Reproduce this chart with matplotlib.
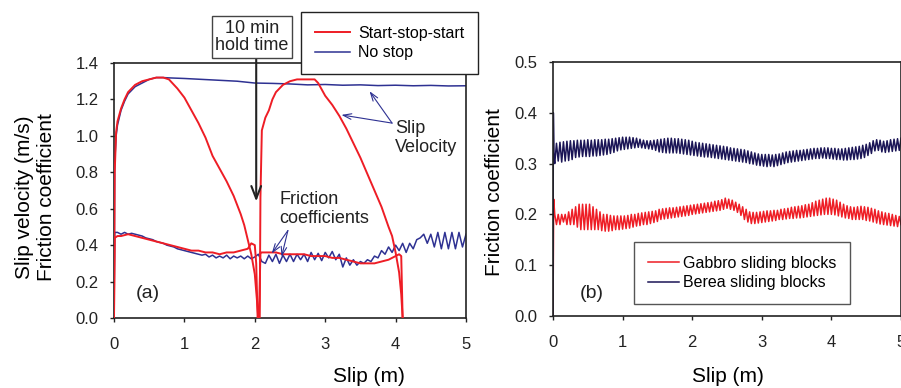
import numpy as np
import matplotlib
matplotlib.use('Agg')
import matplotlib.pyplot as plt

plt.rcParams['font.family'] = ['Liberation Sans', 'DejaVu Sans']

RED = '#ee1d25'
BLUE = '#2e3192'
NAVY = '#1b1556'

# ---- panel (a): start-stop-start vs no stop ----
sss_vel_x = [0, 0.01, 0.03, 0.05, 0.1, 0.15, 0.2, 0.3, 0.4, 0.5, 0.6, 0.7, 0.78, 0.9,
             1.0, 1.1, 1.2, 1.3, 1.4, 1.5, 1.6, 1.7, 1.8, 1.85, 1.9, 1.95, 2.0, 2.03,
             2.05, 2.07, 2.08, 2.1, 2.15, 2.2, 2.25, 2.3, 2.4, 2.5, 2.6, 2.7, 2.8, 2.85,
             2.9, 3.0, 3.1, 3.2, 3.3, 3.4, 3.5, 3.6, 3.7, 3.8, 3.9, 3.95, 4.0, 4.05,
             4.08, 4.1]
sss_vel = [0, 0.8, 1.02, 1.08, 1.15, 1.2, 1.24, 1.28, 1.3, 1.31, 1.32, 1.32, 1.31, 1.26,
           1.21, 1.14, 1.07, 0.99, 0.89, 0.82, 0.75, 0.67, 0.57, 0.51, 0.43, 0.35, 0.24, 0.1,
           0.0, 0.0, 0.66, 1.03, 1.1, 1.14, 1.2, 1.24, 1.28, 1.3, 1.31, 1.31, 1.31, 1.31,
           1.29, 1.22, 1.17, 1.11, 1.04, 0.96, 0.88, 0.79, 0.7, 0.61, 0.5, 0.45, 0.36, 0.25,
           0.13, 0.0]

ns_vel_x = [0, 0.01, 0.03, 0.05, 0.1, 0.15, 0.2, 0.3, 0.4, 0.5, 0.6, 0.7, 0.8, 1.0,
            1.25, 1.5, 1.75, 2.0, 2.25, 2.5, 2.75, 3.0, 3.25, 3.5, 3.75, 4.0, 4.25,
            4.5, 4.75, 5.0]
ns_vel = [0, 0.85, 1.0, 1.06, 1.14, 1.19, 1.23, 1.27, 1.29, 1.31, 1.32, 1.32, 1.318, 1.315,
          1.31, 1.305, 1.3, 1.29, 1.288, 1.285, 1.28, 1.282, 1.278, 1.28, 1.276, 1.278,
          1.275, 1.277, 1.274, 1.275]

sss_fric_x = [0, 0.01, 0.05, 0.1, 0.2, 0.3, 0.4, 0.5, 0.6, 0.7, 0.8, 0.9, 1.0, 1.1, 1.2,
              1.3, 1.4, 1.5, 1.6, 1.7, 1.8, 1.9, 1.95, 2.0, 2.02, 2.04, 2.06, 2.08, 2.09,
              2.1, 2.2, 2.3, 2.4, 2.5, 2.6, 2.7, 2.8, 2.9, 3.0, 3.1, 3.2, 3.3, 3.4, 3.5,
              3.6, 3.7, 3.8, 3.9, 4.0, 4.05, 4.08, 4.1]
sss_fric = [0, 0.44, 0.45, 0.45, 0.46, 0.45, 0.44, 0.43, 0.42, 0.41, 0.4, 0.39, 0.38, 0.37,
            0.37, 0.36, 0.36, 0.35, 0.36, 0.36, 0.37, 0.38, 0.41, 0.4, 0.3, 0.0, 0.0, 0.36,
            0.36, 0.36, 0.36, 0.36, 0.35, 0.35, 0.35, 0.35, 0.34, 0.34, 0.34, 0.33, 0.33,
            0.32, 0.31, 0.3, 0.3, 0.3, 0.31, 0.32, 0.34, 0.35, 0.34, 0.0]

ns_fric_start_x = [0, 0.01]
ns_fric_start = [0, 0.47]
ns_fric = [0.47, 0.46, 0.47, 0.46, 0.465, 0.46, 0.455, 0.45, 0.44, 0.435,
           0.43, 0.42, 0.415, 0.41, 0.40, 0.395, 0.39, 0.38, 0.375, 0.37,
           0.365, 0.36, 0.355, 0.35, 0.345, 0.35, 0.335, 0.345, 0.33, 0.34,
           0.33, 0.345, 0.325, 0.34, 0.33, 0.34, 0.325, 0.34, 0.325, 0.335,
           0.35, 0.31, 0.30, 0.345, 0.31, 0.35, 0.30, 0.345, 0.31, 0.35,
           0.31, 0.35, 0.32, 0.35, 0.31, 0.36, 0.32, 0.355, 0.315, 0.36,
           0.33, 0.365, 0.32, 0.35, 0.28, 0.33, 0.29, 0.32, 0.29, 0.31,
           0.30, 0.32, 0.31, 0.34, 0.33, 0.37, 0.35, 0.39, 0.36, 0.40,
           0.37, 0.41, 0.36, 0.41, 0.38, 0.43, 0.44, 0.46, 0.41, 0.46,
           0.39, 0.47, 0.38, 0.47, 0.38, 0.47, 0.38, 0.47, 0.39, 0.46]

# ---- panel (b): gabbro vs berea, sampled every 0.025 m ----
gab_start_x = [0, 0.01]
gab_start = [0, 0.23]
gabbro = [0.20, 0.18, 0.20, 0.18, 0.20, 0.185, 0.20, 0.18, 0.205, 0.18, 0.21, 0.18, 0.215, 0.175, 0.22, 0.17, 0.22, 0.17, 0.22, 0.17,
          0.22, 0.17, 0.215, 0.17, 0.21, 0.17, 0.205, 0.168, 0.20, 0.167, 0.20, 0.167, 0.198, 0.168, 0.197, 0.17, 0.197, 0.17, 0.197, 0.171,
          0.197, 0.172, 0.198, 0.173, 0.2, 0.175, 0.2, 0.177, 0.202, 0.178, 0.203, 0.18, 0.204, 0.18, 0.205, 0.182, 0.206, 0.184, 0.207, 0.186,
          0.21, 0.19, 0.211, 0.191, 0.212, 0.192, 0.213, 0.193, 0.213, 0.194, 0.214, 0.195, 0.215, 0.196, 0.216, 0.197, 0.217, 0.198, 0.218, 0.2,
          0.219, 0.201, 0.22, 0.202, 0.221, 0.203, 0.222, 0.204, 0.223, 0.205, 0.224, 0.206, 0.226, 0.207, 0.227, 0.208, 0.229, 0.21, 0.232, 0.212,
          0.23, 0.21, 0.228, 0.208, 0.224, 0.204, 0.22, 0.198, 0.215, 0.19, 0.21, 0.185, 0.205, 0.182, 0.204, 0.182, 0.204, 0.183, 0.205, 0.184,
          0.206, 0.185, 0.207, 0.186, 0.207, 0.187, 0.208, 0.188, 0.208, 0.19, 0.21, 0.19, 0.211, 0.191, 0.212, 0.192, 0.214, 0.192, 0.215, 0.193,
          0.216, 0.193, 0.217, 0.194, 0.219, 0.195, 0.22, 0.196, 0.223, 0.197, 0.226, 0.198, 0.228, 0.199, 0.23, 0.2, 0.232, 0.2, 0.232, 0.2,
          0.23, 0.199, 0.228, 0.197, 0.224, 0.195, 0.22, 0.193, 0.217, 0.192, 0.215, 0.19, 0.214, 0.19, 0.215, 0.19, 0.216, 0.19, 0.215, 0.188,
          0.214, 0.187, 0.212, 0.185, 0.21, 0.183, 0.207, 0.181, 0.205, 0.18, 0.203, 0.179, 0.202, 0.178, 0.2, 0.177, 0.198, 0.176, 0.196, 0.18]

ber_start_x = [0, 0.005, 0.015]
ber_start = [0, 0.40, 0.31]
berea = [0.30, 0.34, 0.305, 0.342, 0.303, 0.343, 0.305, 0.344, 0.306, 0.345, 0.308, 0.345, 0.312, 0.346, 0.313, 0.346, 0.314, 0.346, 0.314, 0.347,
         0.314, 0.346, 0.315, 0.347, 0.315, 0.347, 0.316, 0.347, 0.317, 0.348, 0.318, 0.348, 0.32, 0.349, 0.322, 0.35, 0.325, 0.351, 0.327, 0.352,
         0.328, 0.352, 0.329, 0.352, 0.33, 0.351, 0.331, 0.35, 0.332, 0.348, 0.331, 0.346, 0.33, 0.345, 0.329, 0.345, 0.328, 0.346, 0.326, 0.347,
         0.323, 0.348, 0.322, 0.349, 0.321, 0.35, 0.321, 0.35, 0.321, 0.349, 0.321, 0.349, 0.32, 0.348, 0.319, 0.347, 0.318, 0.346, 0.317, 0.344,
         0.316, 0.342, 0.315, 0.341, 0.314, 0.34, 0.313, 0.339, 0.313, 0.338, 0.312, 0.337, 0.311, 0.336, 0.31, 0.335, 0.309, 0.334, 0.308, 0.333,
         0.307, 0.331, 0.306, 0.33, 0.305, 0.329, 0.304, 0.328, 0.303, 0.327, 0.302, 0.325, 0.3, 0.323, 0.299, 0.321, 0.297, 0.319, 0.296, 0.318,
         0.295, 0.318, 0.294, 0.318, 0.295, 0.317, 0.294, 0.318, 0.296, 0.319, 0.298, 0.321, 0.3, 0.323, 0.302, 0.324, 0.303, 0.325, 0.304, 0.326,
         0.305, 0.326, 0.306, 0.327, 0.307, 0.328, 0.308, 0.329, 0.309, 0.33, 0.31, 0.33, 0.31, 0.331, 0.311, 0.331, 0.31, 0.331, 0.31, 0.33,
         0.309, 0.33, 0.308, 0.329, 0.308, 0.329, 0.307, 0.33, 0.307, 0.331, 0.308, 0.332, 0.308, 0.333, 0.309, 0.334, 0.31, 0.336, 0.312, 0.338,
         0.316, 0.341, 0.32, 0.345, 0.325, 0.347, 0.326, 0.346, 0.323, 0.344, 0.322, 0.345, 0.323, 0.347, 0.324, 0.348, 0.325, 0.349, 0.326, 0.35]

ns_fric_x = ns_fric_start_x + list(np.round(np.arange(1, len(ns_fric) + 1) * 0.05, 3))
ns_fric_y = ns_fric_start + ns_fric
gab_x = gab_start_x + list(np.round(np.arange(1, len(gabbro) + 1) * 0.025, 4))
gab_y = gab_start + gabbro
ber_x = ber_start_x + list(np.round(np.arange(1, len(berea) + 1) * 0.025, 4))
ber_y = ber_start + berea

fig = plt.figure(figsize=(9.01, 3.88), dpi=100)
ax1 = fig.add_axes([114 / 901, 1 - 318 / 388, 352 / 901, 255 / 388])
ax2 = fig.add_axes([553 / 901, 1 - 316 / 388, 348 / 901, 254 / 388])

def style_axes(ax):
    for s in ax.spines.values():
        s.set_linewidth(1.2)
        s.set_color('#222222')
    ax.tick_params(direction='out', length=3, width=1.0, labelsize=12, colors='#222222')
    ax.tick_params(axis='x', pad=11)
    ax.tick_params(axis='y', pad=8)

# panel a
ax1.plot(sss_vel_x, sss_vel, color=RED, lw=1.4, label='Start-stop-start', zorder=3)
ax1.plot(ns_vel_x, ns_vel, color=BLUE, lw=1.1, label='No stop', zorder=2)
ax1.plot(sss_fric_x, sss_fric, color=RED, lw=1.4, zorder=3)
ax1.plot(ns_fric_x, ns_fric_y, color=BLUE, lw=1.1, zorder=2)
ax1.set_xlim(0, 5)
ax1.set_ylim(0, 1.4)
ax1.set_xticks([0, 1, 2, 3, 4, 5])
ax1.set_yticks(np.arange(0, 1.41, 0.2))
ax1.set_yticklabels([f'{v:.1f}' for v in np.arange(0, 1.41, 0.2)])
style_axes(ax1)
ax1.set_xlabel('Slip (m)', fontsize=15)
ax1.xaxis.label.set_va('center')
ax1.xaxis.set_label_coords(0.724, -0.231)
ax1.set_ylabel('Slip velocity (m/s)\nFriction coefficient', fontsize=15, linespacing=1.2)
ax1.yaxis.label.set_va('center')
ax1.yaxis.set_label_coords(-0.222, 0.475)
ax1.text(0.48, 0.135, '(a)', fontsize=14, ha='center', va='center', color='#222222')

leg1 = ax1.legend(loc='upper left', bbox_to_anchor=(301 / 901, 1 - 12 / 388),
                  bbox_transform=fig.transFigure, fontsize=11.5, frameon=True,
                  fancybox=False, edgecolor='#222222', framealpha=1, borderpad=0.85,
                  handlelength=2.2, handletextpad=0.55, labelspacing=0.3, borderaxespad=0)
leg1.get_frame().set_linewidth(1.0)
leg1.set_zorder(10)

fig.text(252 / 901, 1 - 37 / 388, '10 min\nhold time', fontsize=13, ha='center', va='center',
         linespacing=1.05, color='#222222',
         bbox=dict(boxstyle='square,pad=0.2', fc='white', ec='#444444', lw=1.0))
ax1.annotate('', xy=(2.02, 0.64), xytext=(2.02, 1.43), annotation_clip=False,
             arrowprops=dict(arrowstyle='->,head_length=0.9,head_width=0.35',
                             color='#222222', lw=1.5, shrinkA=0, shrinkB=0))

ax1.text(3.99, 0.99, 'Slip\nVelocity', fontsize=13, ha='left', va='center',
         linespacing=1.15, color='#222222')
for tip in [(3.23, 1.115), (3.63, 1.245)]:
    ax1.annotate('', xy=tip, xytext=(3.95, 1.07),
                 arrowprops=dict(arrowstyle='->,head_length=0.6,head_width=0.2',
                                 color=BLUE, lw=0.8, shrinkA=0, shrinkB=0))

ax1.text(2.35, 0.60, 'Friction\ncoefficients', fontsize=13, ha='left', va='center',
         linespacing=1.15, color='#222222')
for tip in [(2.24, 0.354), (2.38, 0.336)]:
    ax1.annotate('', xy=tip, xytext=(2.47, 0.48),
                 arrowprops=dict(arrowstyle='->,head_length=0.6,head_width=0.2',
                                 color=BLUE, lw=0.8, shrinkA=0, shrinkB=0))

# panel b
ax2.plot(gab_x, gab_y, color=RED, lw=1.1, label='Gabbro sliding blocks')
ax2.plot(ber_x, ber_y, color=NAVY, lw=1.1, label='Berea sliding blocks')
ax2.set_xlim(0, 5)
ax2.set_ylim(0, 0.5)
ax2.set_xticks([0, 1, 2, 3, 4, 5])
ax2.set_yticks(np.arange(0, 0.51, 0.1))
ax2.set_yticklabels([f'{v:.1f}' for v in np.arange(0, 0.51, 0.1)])
style_axes(ax2)
ax2.set_xlabel('Slip (m)', fontsize=15)
ax2.xaxis.label.set_va('center')
ax2.xaxis.set_label_coords(0.503, -0.24)
ax2.set_ylabel('Friction coefficient', fontsize=15)
ax2.yaxis.label.set_va('center')
ax2.yaxis.set_label_coords(-0.167, 0.488)
ax2.text(0.56, 0.045, '(b)', fontsize=14, ha='center', va='center', color='#222222')

leg2 = ax2.legend(loc='upper left', bbox_to_anchor=(634 / 901, 1 - 242 / 388),
                  bbox_transform=fig.transFigure, fontsize=11.5, frameon=True,
                  fancybox=False, edgecolor='#555555', framealpha=1, borderpad=0.85,
                  handlelength=1.95, handletextpad=0.25, labelspacing=0.3, borderaxespad=0)
leg2.get_frame().set_linewidth(1.0)

fig.savefig('out.png', dpi=100)
